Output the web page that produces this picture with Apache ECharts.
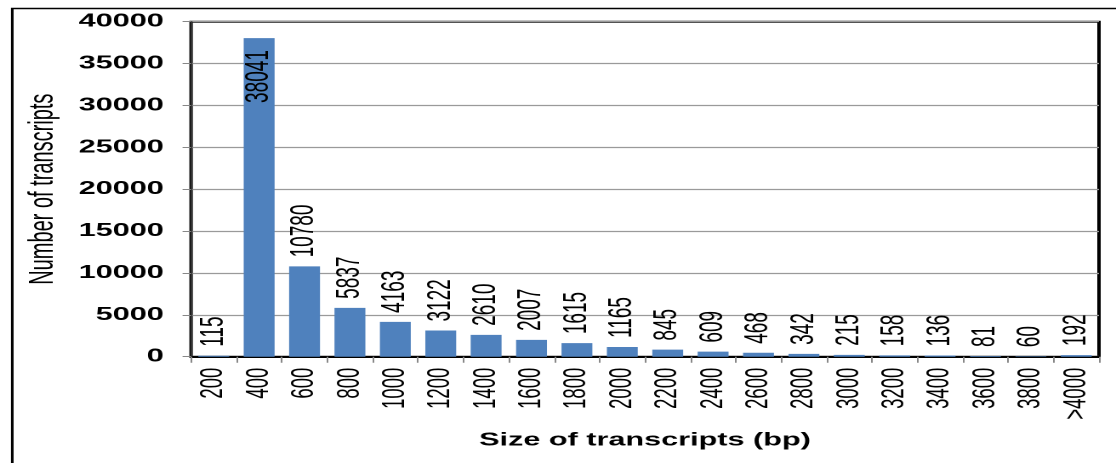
<!DOCTYPE html>
<html>
<head>
<meta charset="utf-8">
<script src="https://cdn.jsdelivr.net/npm/echarts@6/dist/echarts.min.js"></script>
<style>
  html, body { margin: 0; padding: 0; background: #fff; overflow: hidden; }
  /* the original picture is stretched sideways, so the chart is drawn narrow and scaled in x */
  #main { width: 656px; height: 463px; transform: scaleX(1.7012); transform-origin: 0 0; }
</style>
</head>
<body>
<div id="main"></div>
<script>
// 转录本长度分布
const sizeLabels = ['200', '400', '600', '800', '1000', '1200', '1400', '1600', '1800', '2000',
  '2200', '2400', '2600', '2800', '3000', '3200', '3400', '3600', '3800', '>4000'];
const transcriptCounts = [115, 38041, 10780, 5837, 4163, 3122, 2610, 2007, 1615, 1165,
  845, 609, 468, 342, 215, 158, 136, 81, 60, 192];
const yTicks = [0, 5000, 10000, 15000, 20000, 25000, 30000, 35000, 40000];

const font = "'Liberation Sans', Arial, sans-serif";
const chart = echarts.init(document.getElementById('main'), null, { devicePixelRatio: 2 });

// biggest bar gets its label inside, the rest above
const barData = transcriptCounts.map(v => {
  if (v > 30000) {
    return { value: v, label: { position: 'insideTop', distance: 12, align: 'right' } };
  }
  return v;
});

const option = {
  animation: false,
  backgroundColor: '#fff',
  textStyle: { fontFamily: font },
  graphic: [{
    type: 'rect',
    left: 4.7, top: 6,
    shape: { width: 1000, height: 1000 },
    style: { fill: 'none', stroke: '#000', lineWidth: 1.5 },
    silent: true
  }],
  grid: {
    left: 112.3, right: 10, top: 21.7, bottom: 106.3,
    show: true, borderColor: '#000', borderWidth: 2, backgroundColor: 'transparent'
  },
  xAxis: {
    type: 'category',
    data: sizeLabels,
    boundaryGap: true,
    name: 'Size of transcripts (bp)',
    nameLocation: 'middle',
    nameGap: 75,
    nameTextStyle: { fontFamily: font, fontSize: 18, fontWeight: 'bold', color: '#000' },
    axisLine: { lineStyle: { color: '#000', width: 2 } },
    axisTick: { show: true, length: 6, alignWithLabel: false, lineStyle: { color: '#888', width: 1 } },
    axisLabel: { rotate: 90, margin: 11, fontFamily: font, fontSize: 18.5, color: '#000', interval: 0 },
    splitLine: { show: false }
  },
  yAxis: {
    type: 'value',
    min: yTicks[0],
    max: yTicks[yTicks.length - 1],
    interval: yTicks[1] - yTicks[0],
    name: 'Number of transcripts',
    nameLocation: 'middle',
    nameGap: 60,
    nameTextStyle: { fontFamily: font, fontSize: 20, color: '#000' },
    axisLine: { show: true, lineStyle: { color: '#333', width: 1.2 } },
    axisTick: { show: true, length: 5, lineStyle: { color: '#888', width: 1 } },
    axisLabel: {
      margin: 16, fontFamily: font, fontSize: 18, fontWeight: 'bold', color: '#000',
      formatter: v => String(v)
    },
    splitLine: { show: true, lineStyle: { color: '#9a9a9a', width: 1.3 } }
  },
  series: [{
    type: 'bar',
    data: barData,
    barWidth: '68%',
    itemStyle: { color: '#4f81bd' },
    label: {
      show: true,
      position: 'top',
      rotate: 90,
      align: 'left',
      verticalAlign: 'middle',
      distance: 9,
      fontFamily: font,
      fontSize: 19,
      color: '#000'
    }
  }]
};

chart.setOption(option);
</script>
</body>
</html>
